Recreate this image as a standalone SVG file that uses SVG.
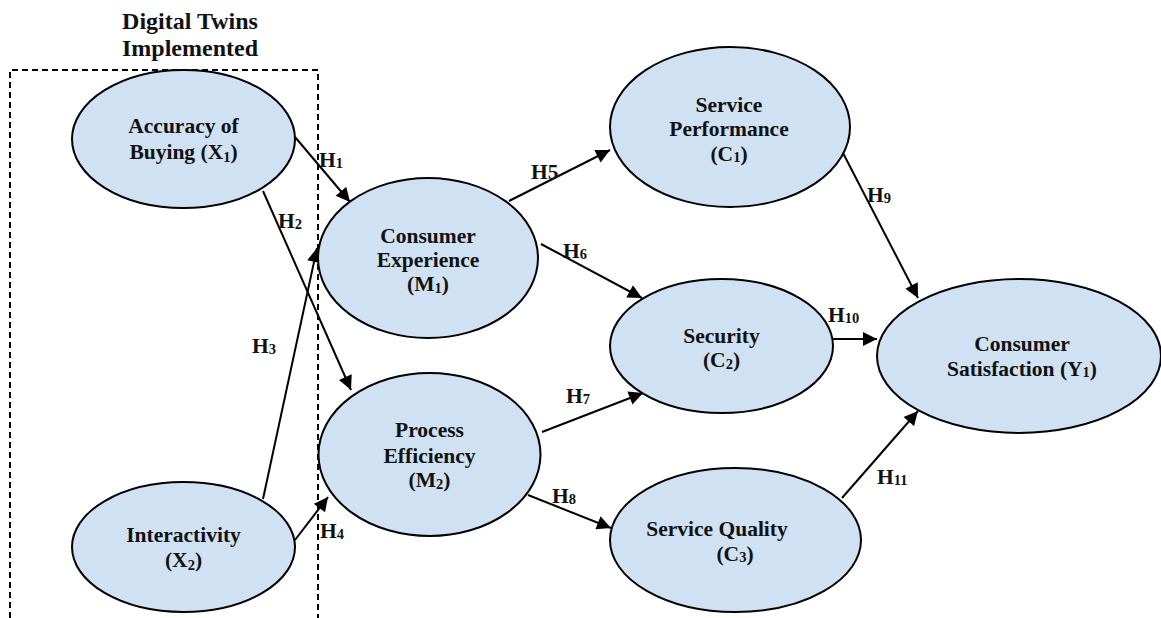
<svg xmlns="http://www.w3.org/2000/svg" width="1161" height="618" viewBox="0 0 1161 618">
  <style>
    .node ellipse { fill: #cfe1f2; stroke: #000; stroke-width: 2; }
    text { font-family: "Liberation Serif", "Times New Roman", Times, serif; font-weight: bold; fill: #111; }
    .lbl { font-size: 21.5px; text-anchor: middle; }
    .hyp { font-size: 21.5px; }
    .sub { font-size: 14.5px; }
    .title { font-size: 24px; text-anchor: middle; }
    .edge { stroke: #000; stroke-width: 2; fill: none; marker-end: url(#arrow); }
    .frame { stroke: #000; stroke-width: 2; fill: none; stroke-dasharray: 6 4; }
  </style>
  <defs>
    <marker id="arrow" viewBox="0 0 10 10" refX="10" refY="5" markerWidth="7.5" markerHeight="7" markerUnits="strokeWidth" orient="auto">
      <path d="M0,0 L10,5 L0,10 z" fill="#000"/>
    </marker>
  </defs>

  <!-- Dashed boundary around the implemented digital-twin constructs -->
  <g id="dt-frame">
    <text class="title" x="190" y="29">Digital Twins</text>
    <text class="title" x="190" y="56">Implemented</text>
    <path class="frame" d="M10,618 V70 H318 V618"/>
  </g>

  <!-- Hypothesised paths -->
  <g id="connectors">
    <line class="edge" x1="295" y1="137" x2="350" y2="202"/>
    <line class="edge" x1="263" y1="191" x2="351" y2="390"/>
    <line class="edge" x1="263" y1="499" x2="317" y2="248"/>
    <line class="edge" x1="295" y1="540" x2="328" y2="497"/>
    <line class="edge" x1="509" y1="201" x2="610" y2="150"/>
    <line class="edge" x1="541" y1="244" x2="642" y2="298"/>
    <line class="edge" x1="542" y1="432" x2="643" y2="393"/>
    <line class="edge" x1="528" y1="495" x2="611" y2="528"/>
    <line class="edge" x1="843" y1="153" x2="918" y2="298"/>
    <line class="edge" x1="833" y1="339" x2="877" y2="339"/>
    <line class="edge" x1="842" y1="498" x2="918" y2="411"/>

    <text class="hyp" x="319" y="167">H<tspan class="sub" dy="1">1</tspan></text>
    <text class="hyp" x="278" y="228">H<tspan class="sub" dy="1">2</tspan></text>
    <text class="hyp" x="252" y="353">H<tspan class="sub" dy="1">3</tspan></text>
    <text class="hyp" x="320" y="538">H<tspan class="sub" dy="1">4</tspan></text>
    <text class="hyp" x="531" y="179">H5</text>
    <text class="hyp" x="563" y="258">H<tspan class="sub" dy="1">6</tspan></text>
    <text class="hyp" x="566" y="403">H<tspan class="sub" dy="1">7</tspan></text>
    <text class="hyp" x="552" y="503">H<tspan class="sub" dy="1">8</tspan></text>
    <text class="hyp" x="867" y="202">H<tspan class="sub" dy="1">9</tspan></text>
    <text class="hyp" x="828" y="322">H<tspan class="sub" dy="1">10</tspan></text>
    <text class="hyp" x="877" y="484">H<tspan class="sub" dy="1">11</tspan></text>
  </g>

  <g id="accuracy-of-buying" class="node">
    <ellipse cx="183.5" cy="139" rx="111.5" ry="69"/>
    <text class="lbl" x="183.5" y="133">Accuracy of</text>
    <text class="lbl" x="183.5" y="159">Buying (X<tspan class="sub" dy="3">1</tspan><tspan dy="-3">)</tspan></text>
  </g>

  <g id="interactivity" class="node">
    <ellipse cx="183.5" cy="547" rx="111.5" ry="65"/>
    <text class="lbl" x="183.5" y="542">Interactivity</text>
    <text class="lbl" x="183.5" y="567">(X<tspan class="sub" dy="3">2</tspan><tspan dy="-3">)</tspan></text>
  </g>

  <g id="consumer-experience" class="node">
    <ellipse cx="428" cy="258" rx="110" ry="80"/>
    <text class="lbl" x="428" y="243">Consumer</text>
    <text class="lbl" x="428" y="267">Experience</text>
    <text class="lbl" x="428" y="291">(M<tspan class="sub" dy="2">1</tspan><tspan dy="-2">)</tspan></text>
  </g>

  <g id="process-efficiency" class="node">
    <ellipse cx="429.5" cy="454.5" rx="111" ry="81.5"/>
    <text class="lbl" x="429.5" y="437">Process</text>
    <text class="lbl" x="429.5" y="463">Efficiency</text>
    <text class="lbl" x="429.5" y="487">(M<tspan class="sub" dy="2">2</tspan><tspan dy="-2">)</tspan></text>
  </g>

  <g id="service-performance" class="node">
    <ellipse cx="730" cy="127" rx="120" ry="80"/>
    <text class="lbl" x="729" y="112">Service</text>
    <text class="lbl" x="729" y="136">Performance</text>
    <text class="lbl" x="729" y="161">(C<tspan class="sub" dy="1">1</tspan><tspan dy="-1">)</tspan></text>
  </g>

  <g id="security" class="node">
    <ellipse cx="721.5" cy="346" rx="111.5" ry="67"/>
    <text class="lbl" x="721.5" y="343">Security</text>
    <text class="lbl" x="721.5" y="367">(C<tspan class="sub" dy="2">2</tspan><tspan dy="-2">)</tspan></text>
  </g>

  <g id="service-quality" class="node">
    <ellipse cx="735.5" cy="540" rx="125.5" ry="72"/>
    <text class="lbl" x="717" y="536">Service Quality</text>
    <text class="lbl" x="735" y="561">(C<tspan class="sub" dy="1">3</tspan><tspan dy="-1">)</tspan></text>
  </g>

  <g id="consumer-satisfaction" class="node">
    <ellipse cx="1019" cy="356" rx="142" ry="77"/>
    <text class="lbl" x="1022" y="351">Consumer</text>
    <text class="lbl" x="1022" y="376">Satisfaction (Y<tspan class="sub" dy="1">1</tspan><tspan dy="-1">)</tspan></text>
  </g>
</svg>
